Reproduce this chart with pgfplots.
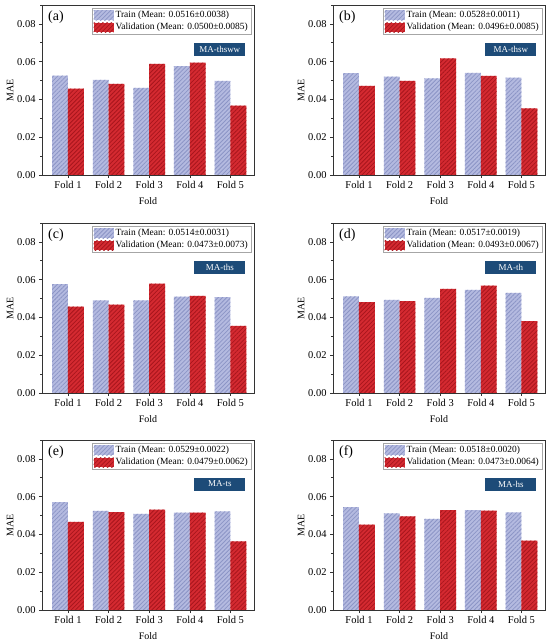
\documentclass[border=0pt]{standalone}
\usepackage{pgfplots}
\pgfplotsset{compat=1.18}
\usepackage{pgfplotstable}
\usepackage{fontspec}
\setmainfont{Liberation Serif}
\usetikzlibrary{patterns.meta}

\definecolor{trainfill}{HTML}{B4BAE0}
\definecolor{trainline}{HTML}{8C95C6}
\definecolor{valfill}{HTML}{D42A31}
\definecolor{valline}{HTML}{A8161D}
\definecolor{boxblue}{HTML}{1D4B78}

\pgfplotstableread{
x train val
0 0.0526 0.0457
1 0.0503 0.0482
2 0.0461 0.0588
3 0.0577 0.0595
4 0.0498 0.0367
}\dataA
\pgfplotstableread{
x train val
0 0.0539 0.0472
1 0.0521 0.0498
2 0.0512 0.0618
3 0.0540 0.0525
4 0.0516 0.0353
}\dataB
\pgfplotstableread{
x train val
0 0.0577 0.0457
1 0.0491 0.0468
2 0.0491 0.0579
3 0.0510 0.0514
4 0.0507 0.0355
}\dataC
\pgfplotstableread{
x train val
0 0.0511 0.0481
1 0.0493 0.0486
2 0.0504 0.0551
3 0.0546 0.0569
4 0.0530 0.0381
}\dataD
\pgfplotstableread{
x train val
0 0.0571 0.0467
1 0.0525 0.0518
2 0.0509 0.0532
3 0.0515 0.0515
4 0.0522 0.0363
}\dataE
\pgfplotstableread{
x train val
0 0.0545 0.0452
1 0.0512 0.0496
2 0.0482 0.0529
3 0.0529 0.0526
4 0.0517 0.0367
}\dataF

\pgfplotsset{
  panelstyle/.style={
    scale only axis, width=212bp, height=170bp, anchor=south west,
    ybar, bar width=0.39,
    xmin=-0.64, xmax=4.58, ymin=0, ymax=0.09,
    xtick={0,1,2,3,4},
    xticklabels={Fold 1,Fold 2,Fold 3,Fold 4,Fold 5},
    ytick={0,0.02,0.04,0.06,0.08},
    minor ytick={0.01,0.03,0.05,0.07,0.09},
    scaled y ticks=false,
    tick pos=left, tick align=outside,
    major tick length=3bp, minor tick length=1.8bp,
    every tick/.style={black!80, line width=0.6bp},
    axis line style={black!80, line width=0.8bp},
    yticklabel style={/pgf/number format/fixed, /pgf/number format/fixed zerofill, /pgf/number format/precision=2},
    /pgf/number format/assume math mode=true,
    tick label style={font=\fontsize{10.5}{12}\selectfont},
    xlabel={Fold}, ylabel={MAE},
    label style={font=\fontsize{11.5}{13}\selectfont},
    every axis x label/.style={at={(rel axis cs:0.5,-0.153)}, anchor=center},
    every axis y label/.style={at={(rel axis cs:-0.151,0.5)}, anchor=center, rotate=90},
    legend style={at={(rel axis cs:1,1)}, anchor=north east, xshift=-3bp, yshift=-3bp,
      draw=black!35, line width=0.5bp, font=\fontsize{9.5}{11}\selectfont,
      inner sep=1bp, row sep=0bp},
    legend cell align=left,
    legend image code/.code={\path[##1] (0bp,-4.8bp) rectangle (20bp,4.8bp);},
  },
  trainstyle/.style={fill=trainfill, draw=none, bar shift=-0.195,
    postaction={pattern={Lines[angle=45,distance=3bp,line width=0.8bp]}, pattern color=trainline}},
  valstyle/.style={fill=valfill, draw=none, bar shift=0.195,
    postaction={pattern={Lines[angle=45,distance=3bp,line width=0.8bp]}, pattern color=valline}},
}

\newcommand{\panel}[7]{%
\begin{axis}[panelstyle, at={(#1,#2)}]
\addplot[trainstyle] table[x=x,y=train]{#3};
\addlegendentry{Train (Mean: #5)}
\addplot[valstyle] table[x=x,y=val]{#3};
\addlegendentry{Validation (Mean: #6)}
\node[anchor=west, font=\fontsize{14}{16}\selectfont, inner sep=0pt] at (rel axis cs:0,1) [xshift=6bp, yshift=-12bp] {#4};
\node[anchor=east, fill=boxblue, text=white, minimum width=51bp, minimum height=13bp, inner sep=0pt,
  font=\fontsize{9}{10}\selectfont] at (rel axis cs:1,0.741) [xshift=-8.5bp] {#7};
\end{axis}}

\begin{document}
\begin{tikzpicture}
\useasboundingbox (0,0) rectangle (550bp,643bp);
\panel{42bp}{468bp}{\dataA}{(a)}{0.0516±0.0038}{0.0500±0.0085}{MA-thsww}
\panel{333bp}{468bp}{\dataB}{(b)}{0.0528±0.0011}{0.0496±0.0085}{MA-thsw}
\panel{42bp}{250bp}{\dataC}{(c)}{0.0514±0.0031}{0.0473±0.0073}{MA-ths}
\panel{333bp}{250bp}{\dataD}{(d)}{0.0517±0.0019}{0.0493±0.0067}{MA-th}
\panel{42bp}{33bp}{\dataE}{(e)}{0.0529±0.0022}{0.0479±0.0062}{MA-ts}
\panel{333bp}{33bp}{\dataF}{(f)}{0.0518±0.0020}{0.0473±0.0064}{MA-hs}
\end{tikzpicture}
\end{document}
